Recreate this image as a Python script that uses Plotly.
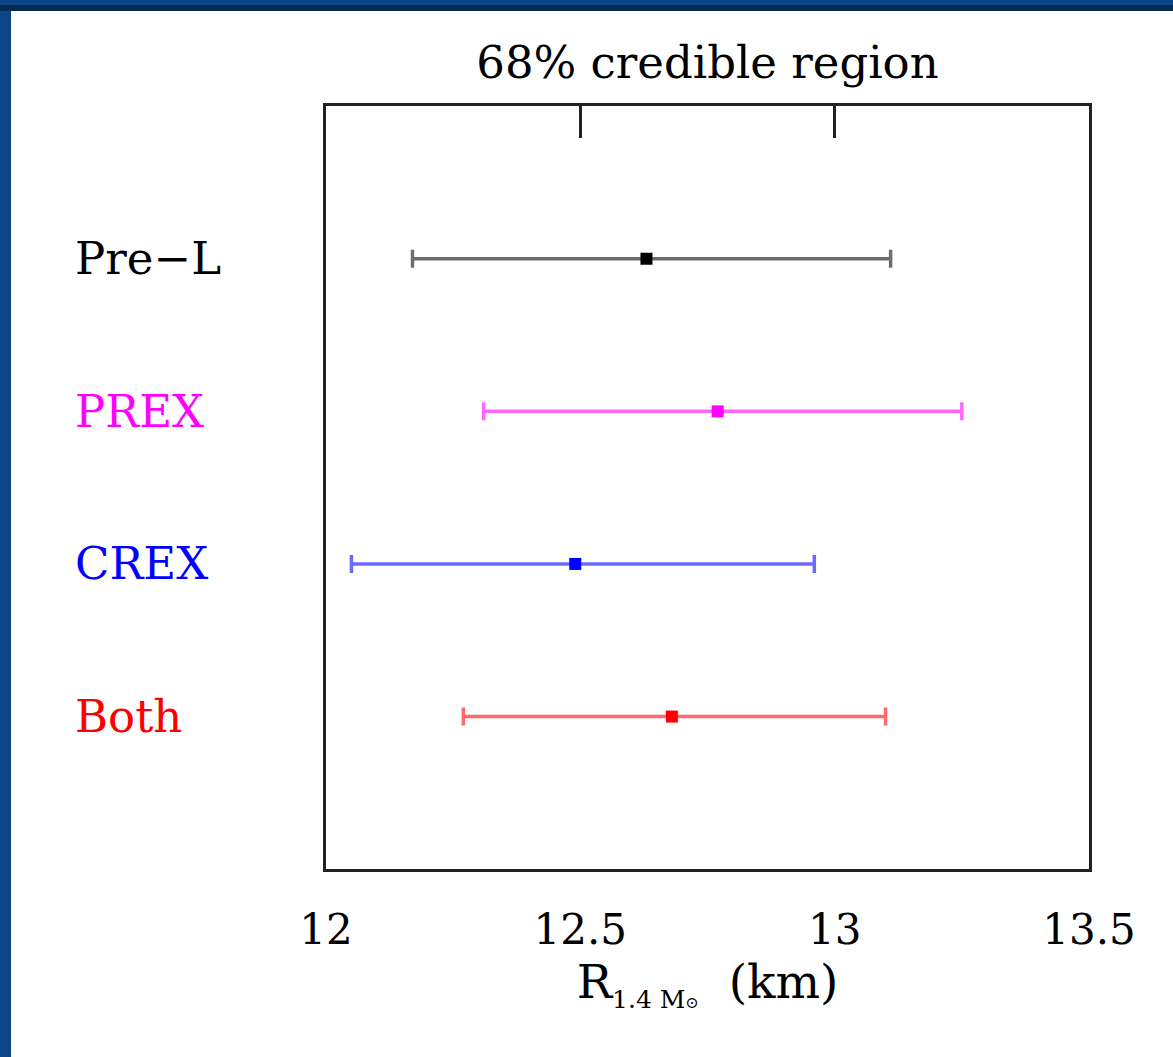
import plotly.graph_objects as go

# 68% credible intervals for the radius of a 1.4 solar-mass neutron star
labels = ["Pre\u2212L", "PREX", "CREX", "Both"]
median = [12.63, 12.77, 12.49, 12.68]
lower = [12.17, 12.31, 12.05, 12.27]
upper = [13.11, 13.25, 12.96, 13.10]

bar_colors = ["#6e6e6e", "#ff66ff", "#6a6aff", "#ff6a6a"]
point_colors = ["#000000", "#ff00ff", "#0000ff", "#ff0000"]
label_colors = ["#000000", "#ff00ff", "#0000ff", "#ff0000"]

x_ticks = [12, 12.5, 13, 13.5]
x_ticktext = ["12", "12.5", "13", "13.5"]

FONT = "DejaVu Serif"
W, H = 1173, 1057
L, R, T, B = 326, 84, 106, 188
PW, PH = W - L - R, H - T - B

fig = go.Figure()

for name, m, lo, hi, bc, pc in zip(labels, median, lower, upper, bar_colors, point_colors):
    fig.add_trace(go.Scatter(
        x=[m], y=[name], mode="markers",
        marker=dict(symbol="square", size=12, color=pc, line=dict(width=0)),
        error_x=dict(type="data", symmetric=False,
                     array=[hi - m], arrayminus=[m - lo],
                     color=bc, thickness=3.5, width=9),
        showlegend=False, hoverinfo="skip",
    ))

# invisible trace so the top tick axis is drawn
fig.add_trace(go.Scatter(x=[12.5], y=[labels[0]], xaxis="x2", mode="markers",
                         marker=dict(opacity=0), showlegend=False, hoverinfo="skip"))

# row labels, left aligned
for name, col in zip(labels, label_colors):
    fig.add_annotation(text=name, x=(73 - L) / PW, xref="paper", y=name, yref="y",
                       xanchor="left", yanchor="middle", showarrow=False,
                       font=dict(family=FONT, size=45, color=col))

# white page on a blue frame
fig.add_shape(type="rect", xref="paper", yref="paper", layer="below",
              x0=(11 - L) / PW, x1=(W + 20 - L) / PW,
              y0=-(B + 20) / PH, y1=(PH + T - 11) / PH,
              fillcolor="white", line=dict(width=0))
fig.add_shape(type="rect", xref="paper", yref="paper", layer="below",
              x0=-(L + 5) / PW, x1=(W + 20 - L) / PW,
              y0=(PH + T - 11) / PH, y1=(PH + T - 5) / PH,
              fillcolor="#062a52", line=dict(width=0))

fig.update_layout(
    width=W, height=H,
    margin=dict(l=L, r=R, t=T, b=B),
    paper_bgcolor="#0c4689",
    plot_bgcolor="white",
    title=dict(text="68% credible region", x=0.5, xref="paper",
               y=1 - 62 / H, yanchor="middle", xanchor="center",
               font=dict(family=FONT, size=45, color="black")),
    xaxis=dict(range=[12, 13.5], tickvals=x_ticks, ticktext=x_ticktext,
               ticks="", showgrid=False, zeroline=False,
               showline=True, mirror=True, linecolor="#222222", linewidth=3,
               tickfont=dict(family=FONT, size=42, color="black"),
               ticklabelstandoff=22,
               title=dict(text='R<sub><span style="font-size:25px">1.4 M</span>'
                               '<span style="font-size:16px">\u2299</span></sub>  (km)',
                          font=dict(family=FONT, size=47, color="black"),
                          standoff=12)),
    xaxis2=dict(range=[12, 13.5], overlaying="x", side="top",
                tickvals=[12.5, 13], ticks="inside", ticklen=32, tickwidth=3,
                tickcolor="#222222", showticklabels=False, showgrid=False,
                zeroline=False, showline=False),
    yaxis=dict(type="category", categoryorder="array", categoryarray=labels,
               range=[3.999, -1.001], showticklabels=False, ticks="",
               showgrid=False, zeroline=False,
               showline=True, mirror=True, linecolor="#222222", linewidth=3),
)

fig.write_html("out.html")
